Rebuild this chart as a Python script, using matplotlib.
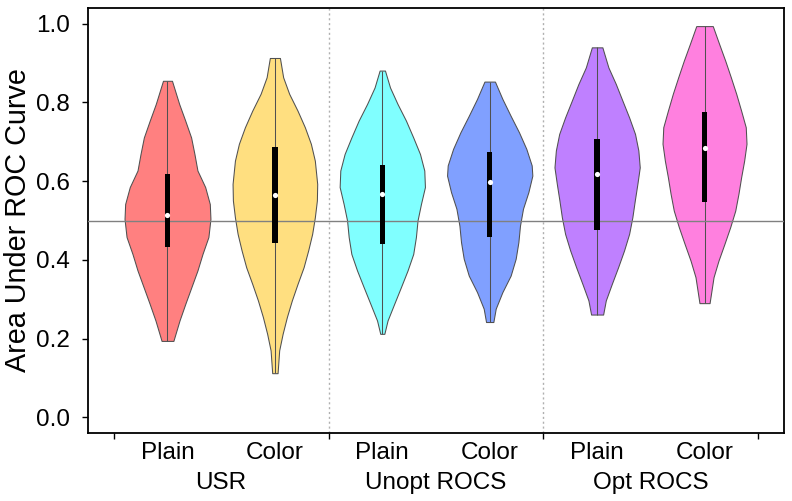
import matplotlib
matplotlib.use("Agg")
import matplotlib.pyplot as plt

plt.rcParams['font.family'] = ['Liberation Sans', 'DejaVu Sans']

# violin outlines: AUC value and half-width (x units)
red_y = [0.855, 0.796, 0.754, 0.711, 0.669, 0.627, 0.585, 0.542, 0.504, 0.458,
         0.415, 0.373, 0.331, 0.289, 0.246, 0.194]
red_w = [0.042, 0.109, 0.165, 0.220, 0.251, 0.279, 0.351, 0.394, 0.400, 0.381,
         0.326, 0.279, 0.223, 0.167, 0.112, 0.055]

yel_y = [0.913, 0.864, 0.822, 0.779, 0.737, 0.695, 0.652, 0.593, 0.551, 0.508,
         0.466, 0.424, 0.381, 0.339, 0.297, 0.255, 0.212, 0.170, 0.112]
yel_w = [0.047, 0.077, 0.133, 0.211, 0.279, 0.335, 0.372, 0.394, 0.391, 0.372,
         0.347, 0.310, 0.267, 0.211, 0.158, 0.112, 0.072, 0.040, 0.025]

cya_y = [0.881, 0.838, 0.796, 0.754, 0.711, 0.669, 0.627, 0.585, 0.542, 0.500,
         0.458, 0.415, 0.373, 0.331, 0.289, 0.246, 0.212]
cya_w = [0.025, 0.072, 0.142, 0.220, 0.288, 0.351, 0.391, 0.397, 0.360, 0.328,
         0.313, 0.288, 0.235, 0.174, 0.112, 0.049, 0.019]

blu_y = [0.853, 0.809, 0.766, 0.724, 0.682, 0.640, 0.614, 0.572, 0.530, 0.487,
         0.445, 0.403, 0.360, 0.318, 0.276, 0.242]
blu_w = [0.049, 0.118, 0.195, 0.273, 0.341, 0.391, 0.397, 0.360, 0.310, 0.282,
         0.267, 0.242, 0.195, 0.118, 0.056, 0.034]

pur_y = [0.940, 0.889, 0.847, 0.805, 0.762, 0.720, 0.678, 0.635, 0.593, 0.551,
         0.508, 0.466, 0.424, 0.381, 0.339, 0.297, 0.261]
pur_w = [0.049, 0.105, 0.174, 0.235, 0.298, 0.353, 0.384, 0.397, 0.375, 0.351,
         0.328, 0.298, 0.251, 0.195, 0.137, 0.081, 0.056]

mag_y = [0.994, 0.948, 0.906, 0.864, 0.822, 0.779, 0.737, 0.695, 0.652, 0.610,
         0.568, 0.525, 0.483, 0.441, 0.398, 0.356, 0.290]
mag_w = [0.077, 0.137, 0.193, 0.245, 0.295, 0.341, 0.384, 0.391, 0.369, 0.341,
         0.316, 0.286, 0.239, 0.186, 0.130, 0.084, 0.047]

# box stats
q1 = [0.432, 0.443, 0.441, 0.459, 0.476, 0.548]
q3 = [0.618, 0.686, 0.640, 0.675, 0.707, 0.775]
medians = [0.515, 0.566, 0.568, 0.597, 0.618, 0.685]

sub_labels = ['Plain', 'Color', 'Plain', 'Color', 'Plain', 'Color']
groups = ['USR', 'Unopt ROCS', 'Opt ROCS']
colors = ['#FF8080', '#FFDF80', '#80FFFF', '#80A0FF', '#BF80FF', '#FF80DF']

shapes = [(red_y, red_w), (yel_y, yel_w), (cya_y, cya_w),
          (blu_y, blu_w), (pur_y, pur_w), (mag_y, mag_w)]
positions = list(range(1, len(shapes) + 1))

fig = plt.figure(figsize=(7.92, 5.01), dpi=100)
ax = fig.add_axes([88 / 792, 1 - 433 / 501, 696 / 792, 425 / 501])

for pos, (ys, ws), col in zip(positions, shapes, colors):
    left = [pos - w for w in ws]
    right = [pos + w for w in ws]
    ax.fill_betweenx(ys, left, right, facecolor=col, edgecolor='#505050',
                     linewidth=0.75, zorder=2)
    ax.vlines(pos, min(ys), max(ys), color='#505050', linewidth=0.75, zorder=3)

heights = [b - a for a, b in zip(q1, q3)]
ax.bar(positions, heights, bottom=q1, width=0.052, color='black', zorder=4)
ax.scatter(positions, medians, s=14, color='white', zorder=5, linewidths=0)

ax.axhline(0.5, color='#808080', linewidth=1.0, zorder=3)
for xb in [2.5, 4.5]:
    ax.axvline(xb, color='#b0b0b0', linewidth=1.0, linestyle=(0, (1.5, 2)), zorder=1)

ax.set_xlim(0.26, 6.74)
ax.set_ylim(-0.04, 1.04)
ax.set_yticks([0.0, 0.2, 0.4, 0.6, 0.8, 1.0])
ax.set_yticklabels(['0.0', '0.2', '0.4', '0.6', '0.8', '1.0'])
ax.set_xticks([0.5, 2.5, 4.5, 6.5])
ax.set_xticklabels([])
ax.tick_params(axis='both', direction='out', length=4.5, width=1, labelsize=17.5)
ax.tick_params(axis='y', pad=8.5)

for sp in ax.spines.values():
    sp.set_linewidth(1.3)

for pos, lab in zip(positions, sub_labels):
    ax.text(pos, -0.061, lab, transform=ax.get_xaxis_transform(), ha='center',
            va='baseline', fontsize=17.5)
for i, g in enumerate(groups):
    ax.text(1.5 + 2 * i, -0.132, g, transform=ax.get_xaxis_transform(), ha='center',
            va='baseline', fontsize=17.5)

fig.text(18 / 792, 1 - 220 / 501, 'Area Under ROC Curve', rotation=90,
         ha='center', va='center', fontsize=20.7)

fig.savefig('out.png', dpi=100)
